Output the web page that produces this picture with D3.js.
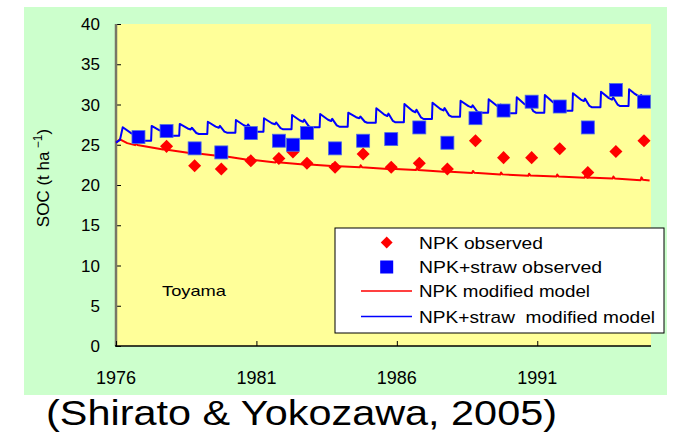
<!DOCTYPE html>
<html>
<head>
<meta charset="utf-8">
<script src="https://cdn.jsdelivr.net/npm/d3@7"></script>
<style>
  html, body { margin: 0; padding: 0; background: #ffffff; }
  svg { display: block; }
</style>
</head>
<body>
<svg id="chart" width="682" height="432"></svg>
<script>
// ---- data ----
const xTicks = [1976, 1981, 1986, 1991];
const yTicks = [0, 5, 10, 15, 20, 25, 30, 35, 40];

const npkObsYears = [1977.8, 1978.8, 1979.75, 1980.8, 1981.8, 1982.3, 1982.8, 1983.8, 1984.8, 1985.8, 1986.8, 1987.8, 1988.8, 1989.8, 1990.8, 1991.8, 1992.8, 1993.8, 1994.8];
const npkObsValues = [24.8, 22.4, 22.0, 23.0, 23.3, 24.1, 22.7, 22.2, 23.85, 22.2, 22.7, 22.0, 25.5, 23.4, 23.4, 24.5, 21.55, 24.15, 25.5];

const strawObsYears = [1976.8, 1977.8, 1978.8, 1979.75, 1980.8, 1981.8, 1982.3, 1982.8, 1983.8, 1984.8, 1985.8, 1986.8, 1987.8, 1988.8, 1989.8, 1990.8, 1991.8, 1992.8, 1993.8, 1994.8];
const strawObsValues = [25.95, 26.7, 24.55, 24.05, 26.45, 25.5, 25.0, 26.45, 24.55, 25.5, 25.7, 27.15, 25.25, 28.3, 29.25, 30.35, 29.75, 27.15, 31.8, 30.35];

const npkModel = [
  [1976.00, 25.26], [1976.14, 25.68], [1976.40, 25.20], [1976.68, 24.95], [1976.71, 25.20], [1976.76, 24.97],
  [1977.68, 24.40], [1977.71, 24.65], [1977.76, 24.42],
  [1978.68, 23.95], [1978.71, 24.20], [1978.76, 23.97],
  [1979.68, 23.60], [1979.71, 23.85], [1979.76, 23.62],
  [1980.68, 23.15], [1980.71, 23.40], [1980.76, 23.17],
  [1981.68, 22.80], [1981.71, 23.05], [1981.76, 22.82],
  [1982.68, 22.55], [1982.71, 22.80], [1982.76, 22.57],
  [1983.68, 22.35], [1983.71, 22.60], [1983.76, 22.37],
  [1984.68, 22.20], [1984.71, 22.45], [1984.76, 22.22],
  [1985.68, 22.00], [1985.71, 22.25], [1985.76, 22.02],
  [1986.68, 21.85], [1986.71, 22.10], [1986.76, 21.87],
  [1987.68, 21.65], [1987.71, 21.90], [1987.76, 21.67],
  [1988.68, 21.50], [1988.71, 21.75], [1988.76, 21.52],
  [1989.68, 21.30], [1989.71, 21.55], [1989.76, 21.32],
  [1990.68, 21.15], [1990.71, 21.40], [1990.76, 21.17],
  [1991.68, 21.05], [1991.71, 21.30], [1991.76, 21.07],
  [1992.68, 20.90], [1992.71, 21.15], [1992.76, 20.92],
  [1993.68, 20.80], [1993.71, 21.05], [1993.76, 20.82],
  [1994.68, 20.60], [1994.71, 20.95], [1994.76, 20.65],
  [1995.00, 20.55]
];

const strawModel = [
  [1976.00, 25.26], [1976.14, 25.60], [1976.24, 27.17], [1976.55, 26.42], [1976.66, 26.25], [1976.70, 26.54], [1976.86, 25.67], [1976.95, 25.50], [1977.25, 25.50],
  [1977.27, 27.33], [1977.55, 26.79], [1977.66, 26.66], [1977.70, 26.87], [1977.86, 26.24], [1977.95, 26.12], [1978.25, 26.12],
  [1978.27, 27.58], [1978.55, 27.02], [1978.66, 26.90], [1978.70, 27.11], [1978.86, 26.46], [1978.95, 26.34], [1979.25, 26.34],
  [1979.27, 27.86], [1979.55, 27.25], [1979.66, 27.11], [1979.70, 27.34], [1979.86, 26.64], [1979.95, 26.50], [1980.25, 26.50],
  [1980.27, 28.07], [1980.55, 27.42], [1980.66, 27.27], [1980.70, 27.52], [1980.86, 26.77], [1980.95, 26.62], [1981.25, 26.62],
  [1981.27, 28.29], [1981.55, 27.67], [1981.66, 27.54], [1981.70, 27.77], [1981.86, 27.06], [1981.95, 26.92], [1982.25, 26.92],
  [1982.27, 28.70], [1982.55, 28.01], [1982.66, 27.86], [1982.70, 28.12], [1982.86, 27.32], [1982.95, 27.17], [1983.25, 27.17],
  [1983.27, 28.82], [1983.55, 28.11], [1983.66, 27.95], [1983.70, 28.22], [1983.86, 27.40], [1983.95, 27.24], [1984.25, 27.24],
  [1984.27, 28.98], [1984.55, 28.42], [1984.66, 28.30], [1984.70, 28.51], [1984.86, 27.86], [1984.95, 27.74], [1985.25, 27.74],
  [1985.27, 29.53], [1985.55, 28.75], [1985.66, 28.57], [1985.70, 28.87], [1985.86, 27.96], [1985.95, 27.79], [1986.25, 27.79],
  [1986.27, 30.06], [1986.55, 29.22], [1986.66, 29.04], [1986.70, 29.35], [1986.86, 28.39], [1986.95, 28.20], [1987.25, 28.20],
  [1987.27, 30.22], [1987.55, 29.44], [1987.66, 29.26], [1987.70, 29.56], [1987.86, 28.65], [1987.95, 28.48], [1988.25, 28.48],
  [1988.27, 30.47], [1988.55, 29.80], [1988.66, 29.65], [1988.70, 29.90], [1988.86, 29.13], [1988.95, 28.98], [1989.25, 28.98],
  [1989.27, 30.65], [1989.55, 29.87], [1989.66, 29.69], [1989.70, 29.99], [1989.86, 29.08], [1989.95, 28.91], [1990.25, 28.91],
  [1990.27, 30.90], [1990.55, 30.04], [1990.66, 29.84], [1990.70, 30.17], [1990.86, 29.17], [1990.95, 28.98], [1991.25, 28.98],
  [1991.27, 31.18], [1991.55, 30.30], [1991.66, 30.11], [1991.70, 30.44], [1991.86, 29.42], [1991.95, 29.23], [1992.25, 29.23],
  [1992.27, 31.39], [1992.55, 30.61], [1992.66, 30.43], [1992.70, 30.73], [1992.86, 29.82], [1992.95, 29.65], [1993.25, 29.65],
  [1993.27, 31.59], [1993.55, 30.79], [1993.66, 30.61], [1993.70, 30.91], [1993.86, 29.99], [1993.95, 29.81], [1994.25, 29.81],
  [1994.27, 31.89], [1994.45, 31.39], [1994.63, 30.97], [1994.70, 31.18], [1994.85, 30.47], [1995.00, 30.15]
];

const legendLabels = ["NPK observed", "NPK+straw observed", "NPK modified model", "NPK+straw  modified model"];
const siteLabel = "Toyama";
const citation = "(Shirato & Yokozawa, 2005)";

// ---- drawing ----
const svg = d3.select("#chart");
const plot = { left: 116, top: 24, right: 651, bottom: 346 };

const x = d3.scaleLinear().domain([1976, 1995.05]).range([plot.left, plot.right]);
const y = d3.scaleLinear().domain([0, 40]).range([plot.bottom, plot.top]);

// green panel
svg.append("rect").attr("x", 24).attr("y", 7).attr("width", 643).attr("height", 388).attr("fill", "#ccffcc");
// yellow plot area
svg.append("rect").attr("x", plot.left).attr("y", plot.top)
  .attr("width", plot.right - plot.left).attr("height", plot.bottom - plot.top).attr("fill", "#ffff99");

// y axis
const yAxis = d3.axisRight(y).tickValues(yTicks).tickSize(5).tickFormat("");
const gy = svg.append("g").attr("transform", `translate(${plot.left},0)`).call(yAxis);
gy.select(".domain").remove();
gy.selectAll(".tick line").attr("stroke", "#000").attr("stroke-width", 1);
svg.append("line").attr("x1", plot.left).attr("x2", plot.left).attr("y1", plot.top).attr("y2", plot.bottom)
  .attr("stroke", "#777766").attr("stroke-width", 2.5);
svg.append("g").selectAll("text").data(yTicks).join("text")
  .attr("x", 100).attr("y", d => y(d)).attr("dy", "0.36em")
  .attr("text-anchor", "end").attr("font-family", "Liberation Sans, Arial, sans-serif")
  .attr("font-size", 17).attr("fill", "#000").text(d => d);

// x axis
const xAxis = d3.axisTop(x).tickValues(xTicks).tickSize(5).tickFormat("");
const gx = svg.append("g").attr("transform", `translate(0,${plot.bottom})`).call(xAxis);
gx.select(".domain").remove();
gx.selectAll(".tick line").attr("stroke", "#000").attr("stroke-width", 1);
svg.append("line").attr("x1", plot.left - 1).attr("x2", plot.right).attr("y1", plot.bottom).attr("y2", plot.bottom)
  .attr("stroke", "#000").attr("stroke-width", 1.5);
svg.append("g").selectAll("text").data(xTicks).join("text")
  .attr("x", d => x(d)).attr("y", 384)
  .attr("text-anchor", "middle").attr("font-family", "Liberation Sans Narrow, Liberation Sans, Arial, sans-serif")
  .attr("font-size", 18).attr("fill", "#000").text(d => d);

// y axis title
const yt = svg.append("text").attr("transform", "translate(49,178) rotate(-90)")
  .attr("text-anchor", "middle").attr("font-family", "Liberation Sans, Arial, sans-serif")
  .attr("font-size", 17).attr("fill", "#000");
yt.append("tspan").text("SOC (t ha");
yt.append("tspan").attr("dy", -7).attr("font-size", 12).text(" −1");
yt.append("tspan").attr("dy", 7).text(")");

// lines
const line = d3.line().x(d => x(d[0])).y(d => y(d[1]));
svg.append("path").datum(npkModel).attr("d", line).attr("fill", "none").attr("stroke", "#ff0000").attr("stroke-width", 2).attr("stroke-linejoin", "round");
svg.append("path").datum(strawModel).attr("d", line).attr("fill", "none").attr("stroke", "#0000ff").attr("stroke-width", 2).attr("stroke-linejoin", "round");

// markers
const diamond = d3.symbol().type(d3.symbolSquare).size(85);
svg.append("g").selectAll("path").data(npkObsYears.map((yr, i) => [yr, npkObsValues[i]])).join("path")
  .attr("d", diamond).attr("transform", d => `translate(${x(d[0])},${y(d[1])}) rotate(45)`)
  .attr("fill", "#ff0000");
svg.append("g").selectAll("rect").data(strawObsYears.map((yr, i) => [yr, strawObsValues[i]])).join("rect")
  .attr("x", d => x(d[0]) - 6.5).attr("y", d => y(d[1]) - 6.5).attr("width", 13).attr("height", 13)
  .attr("fill", "#0000ff").attr("stroke", "#4f6fe0").attr("stroke-width", 0.8);

// site label
svg.append("text").attr("x", 162).attr("y", 296).attr("font-family", "Liberation Sans, Arial, sans-serif")
  .attr("font-size", 15).attr("textLength", 64).attr("lengthAdjust", "spacingAndGlyphs").attr("fill", "#000").text(siteLabel);

// legend
const lg = svg.append("g");
lg.append("rect").attr("x", 335).attr("y", 228).attr("width", 329).attr("height", 105)
  .attr("fill", "#fff").attr("stroke", "#000").attr("stroke-width", 1);
const rowY = [242.5, 267, 291, 316.5];
lg.append("path").attr("d", d3.symbol().type(d3.symbolSquare).size(70)).attr("transform", `translate(386.7,${rowY[0]}) rotate(45)`).attr("fill", "#ff0000");
lg.append("rect").attr("x", 380.2).attr("y", rowY[1] - 6.5).attr("width", 13).attr("height", 13).attr("fill", "#0000ff");
lg.append("line").attr("x1", 361).attr("x2", 412).attr("y1", rowY[2]).attr("y2", rowY[2]).attr("stroke", "#ff0000").attr("stroke-width", 1.5);
lg.append("line").attr("x1", 361).attr("x2", 412).attr("y1", rowY[3]).attr("y2", rowY[3]).attr("stroke", "#0000ff").attr("stroke-width", 1.5);
const lgLen = [124, 183, 171, 236];
lg.selectAll("text").data(legendLabels).join("text")
  .attr("x", 419).attr("y", (d, i) => rowY[i]).attr("dy", "0.36em")
  .attr("font-family", "Liberation Sans, Arial, sans-serif").attr("font-size", 17)
  .attr("textLength", (d, i) => lgLen[i]).attr("lengthAdjust", "spacingAndGlyphs")
  .attr("xml:space", "preserve").attr("fill", "#000").text(d => d);

// citation
svg.append("text").attr("x", 46).attr("y", 425).attr("font-family", "Liberation Sans, Arial, sans-serif")
  .attr("font-size", 35).attr("textLength", 511).attr("lengthAdjust", "spacingAndGlyphs")
  .attr("fill", "#000").text(citation);
</script>
</body>
</html>
